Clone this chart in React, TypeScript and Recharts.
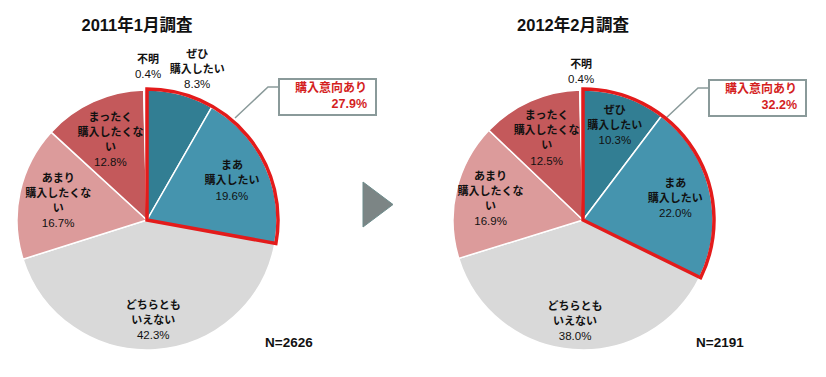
import React from "react";
import { PieChart, Pie, Cell } from "recharts";

// categories, clockwise from 12 o'clock
const categories = [
  ["ぜひ", "購入したい"],
  ["まあ", "購入したい"],
  ["どちらとも", "いえない"],
  ["あまり", "購入したくな", "い"],
  ["まったく", "購入したくな", "い"],
  ["不明"],
];
const values2011 = [8.3, 19.6, 42.3, 16.7, 12.8, 0.4];
const values2012 = [10.3, 22.0, 38.0, 16.9, 12.5, 0.4];
const titles = ["2011年1月調査", "2012年2月調査"];
const sampleSizes = [2626, 2191];
const intentLabel = "購入意向あり";
const intentValues = [27.9, 32.2];

const colors = ["#327e93", "#4594ae", "#d9d9d9", "#dc9b9b", "#c4595b", "#f4f4f4"];
const FONT = '"Liberation Sans", "Noto Sans CJK JP", sans-serif';
const R = 130;

// label distance from centre, as share of the radius
const labelDist = [
  [1.2, 0.72, 0.77, 0.7, 0.68, 1.18],
  [0.77, 0.73, 0.78, 0.73, 0.69, 1.14],
];
const labelShift = [
  [10, 0, 0, 0, 0, 3],
  [0, 0, 0, 0, 0, 0],
];

const RAD = Math.PI / 180;

function makeLabel(chart: number, values: number[]) {
  return (p: any) => {
    const i = p.index;
    const d = R * labelDist[chart][i];
    const x = p.cx + d * Math.cos(-p.midAngle * RAD) + labelShift[chart][i];
    const y = p.cy + d * Math.sin(-p.midAngle * RAD);
    const lines = categories[i];
    const n = lines.length + 1;
    const top = y - ((n - 1) * 15) / 2;
    return (
      <text x={x} y={top} textAnchor="middle" fontFamily={FONT} fontSize={11} fill="#111">
        {lines.map((l, k) => (
          <tspan key={k} x={x} y={top + k * 15} dy="0.35em" fontWeight="bold">
            {l}
          </tspan>
        ))}
        <tspan x={x} y={top + lines.length * 15} dy="0.35em" fontSize={11.5}>
          {values[i].toFixed(1)}%
        </tspan>
      </text>
    );
  };
}

function PiePair({ chart, cx, values }: { chart: number; cx: number; values: number[] }) {
  const data = values.map((v, i) => ({ name: categories[i].join(""), value: v }));
  const total = values.reduce((a, b) => a + b, 0);
  const intent = values[0] + values[1];
  const outline = [
    { name: "intent", value: intent },
    { name: "rest", value: total - intent },
  ];
  return (
    <>
      <Pie
        data={data}
        dataKey="value"
        cx={cx}
        cy={220}
        outerRadius={R}
        startAngle={90}
        endAngle={-270}
        stroke="#fff"
        strokeWidth={1.5}
        label={makeLabel(chart, values)}
        labelLine={false}
        isAnimationActive={false}
      >
        {data.map((_, i) => (
          <Cell key={i} fill={colors[i]} />
        ))}
      </Pie>
      <Pie
        data={outline}
        dataKey="value"
        cx={cx}
        cy={220}
        outerRadius={R + 1}
        startAngle={90}
        endAngle={-270}
        isAnimationActive={false}
      >
        <Cell fill="none" stroke="#e31b1b" strokeWidth={3.5} strokeLinejoin="miter" />
        <Cell fill="none" stroke="none" />
      </Pie>
    </>
  );
}

function Callout({ x, y, value }: { x: number; y: number; value: number }) {
  return (
    <g>
      <polyline
        points={`${x},${y + 8} ${x - 11},${y + 8} ${x - 44},${y + 39}`}
        fill="none"
        stroke="#8a9a9a"
        strokeWidth={1.5}
      />
      <rect x={x} y={y} width={97} height={36} fill="#fff" stroke="#8a9a9a" strokeWidth={2} />
      <text x={x + 88} y={y + 13} textAnchor="end" fontFamily={FONT} fontSize={12} fontWeight="bold" fill="#d41f1f">
        {intentLabel}
      </text>
      <text x={x + 88} y={y + 29} textAnchor="end" fontFamily={FONT} fontSize={12.5} fontWeight="bold" fill="#d41f1f">
        {value.toFixed(1)}%
      </text>
    </g>
  );
}

export default function App() {
  return (
    <div style={{ position: "absolute", left: 0, top: 0, background: "#fff" }}>
      <PieChart width={826} height={377} margin={{ top: 0, right: 0, bottom: 0, left: 0 }}>
        <PiePair chart={0} cx={147} values={values2011} />
        <PiePair chart={1} cx={583} values={values2012} />
        <text x={137} y={31} textAnchor="middle" fontFamily={FONT} fontSize={16.5} fontWeight="bold" fill="#111">
          {titles[0]}
        </text>
        <text x={573} y={31} textAnchor="middle" fontFamily={FONT} fontSize={16.5} fontWeight="bold" fill="#111">
          {titles[1]}
        </text>
        <Callout x={279} y={79} value={intentValues[0]} />
        <Callout x={709} y={80} value={intentValues[1]} />
        <polygon points="363,182 363,227 393,204.5" fill="#7c8585" stroke="#6d8c8c" strokeWidth={1} />
        <text x={265} y={347} fontFamily={FONT} fontSize={13.5} fontWeight="bold" fill="#111">
          N={sampleSizes[0]}
        </text>
        <text x={696} y={347} fontFamily={FONT} fontSize={13.5} fontWeight="bold" fill="#111">
          N={sampleSizes[1]}
        </text>
      </PieChart>
    </div>
  );
}
